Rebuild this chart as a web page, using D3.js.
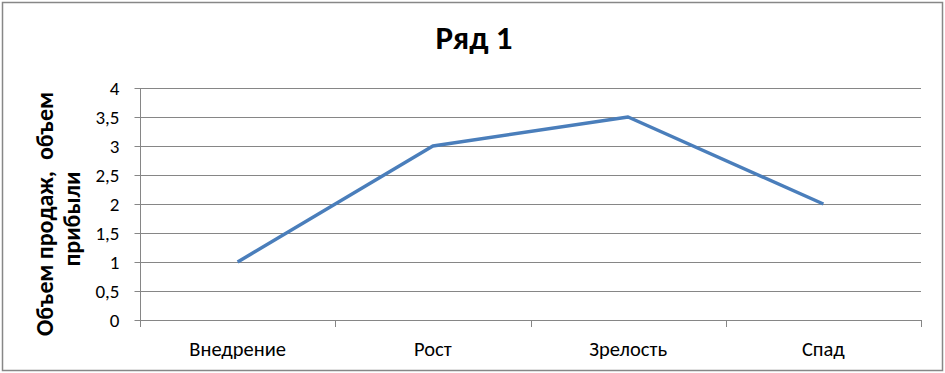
<!DOCTYPE html>
<html>
<head>
<meta charset="utf-8">
<script src="https://cdn.jsdelivr.net/npm/d3@7"></script>
<style>
  body { margin: 0; background: #fff; }
  text { font-family: Carlito, "Open Sans", sans-serif; }
</style>
</head>
<body>
<div id="chart"></div>
<script>
var categories = ["Внедрение", "Рост", "Зрелость", "Спад"];
var values = [1, 3, 3.5, 2];
var yTicks = [0, 0.5, 1, 1.5, 2, 2.5, 3, 3.5, 4];
var title = "Ряд 1";
var yTitle = ["Объем продаж,  объем", "прибыли"];

var W = 945, H = 373;
var plotLeft = 140, plotRight = 921, plotTop = 88, plotBottom = 320;

var svg = d3.select("#chart").append("svg")
  .attr("width", W)
  .attr("height", H);

// outer frame
svg.append("rect")
  .attr("x", 2.5).attr("y", 2.5)
  .attr("width", 940).attr("height", 368)
  .attr("fill", "#fff")
  .attr("stroke", "#878787")
  .attr("stroke-width", 1.5);

var x = d3.scaleBand().domain(categories).range([plotLeft, plotRight]);
var y = d3.scaleLinear().domain([0, 4]).range([plotBottom, plotTop]);

// gridlines
svg.append("g")
  .selectAll("line")
  .data(yTicks.filter(d => d > 0))
  .enter().append("line")
  .attr("x1", plotLeft).attr("x2", plotRight)
  .attr("y1", d => Math.round(y(d)) + 0.5)
  .attr("y2", d => Math.round(y(d)) + 0.5)
  .attr("stroke", "#868686");

// y axis
var fmt = d => String(d).replace(".", ",");
var yAxis = svg.append("g")
  .attr("transform", "translate(" + (plotLeft + 0.5) + ",0)")
  .call(d3.axisLeft(y).tickValues(yTicks).tickFormat(fmt).tickSize(6).tickPadding(15));
yAxis.select(".domain").attr("stroke", "#868686").attr("d", "M0," + plotTop + "V" + plotBottom);
yAxis.selectAll(".tick").attr("transform", d => "translate(0," + (Math.round(y(d)) + 0.5) + ")");
yAxis.selectAll(".tick line").attr("stroke", "#868686");
yAxis.selectAll("text").attr("font-size", 19).attr("fill", "#000").attr("dy", "0.34em");

// x axis
var xAxis = svg.append("g")
  .attr("transform", "translate(0," + (plotBottom + 0.5) + ")")
  .call(d3.axisBottom(x).tickSize(0).tickPadding(21));
xAxis.select(".domain").attr("stroke", "#868686").attr("d", "M" + plotLeft + ",0H" + plotRight);
xAxis.selectAll("text").attr("font-size", 20.5).attr("fill", "#000");
// category boundary ticks
svg.append("g")
  .selectAll("line")
  .data(d3.range(categories.length + 1))
  .enter().append("line")
  .attr("x1", i => Math.round(plotLeft + i * x.step()) + 0.5)
  .attr("x2", i => Math.round(plotLeft + i * x.step()) + 0.5)
  .attr("y1", plotBottom)
  .attr("y2", plotBottom + 7)
  .attr("stroke", "#868686");

// line
var line = d3.line()
  .x((d, i) => x(categories[i]) + x.bandwidth() / 2)
  .y(d => y(d));
svg.append("path")
  .datum(values)
  .attr("d", line)
  .attr("fill", "none")
  .attr("stroke", "#4a7ebb")
  .attr("stroke-width", 3.5)
  .attr("stroke-linejoin", "round");

// title
svg.append("text")
  .attr("x", 474).attr("y", 49)
  .attr("text-anchor", "middle")
  .attr("font-size", 33)
  .attr("font-weight", "bold")
  .text(title);

// y title
var yt = svg.append("text")
  .attr("transform", "translate(53,216) rotate(-90)")
  .attr("text-anchor", "middle")
  .attr("font-size", 24)
  .attr("font-weight", "bold")
  .style("white-space", "pre");
yt.selectAll("tspan")
  .data(yTitle)
  .enter().append("tspan")
  .attr("x", (d, i) => i === 0 ? 2 : -3)
  .attr("dy", (d, i) => i === 0 ? 0 : 27)
  .text(d => d);
</script>
</body>
</html>
